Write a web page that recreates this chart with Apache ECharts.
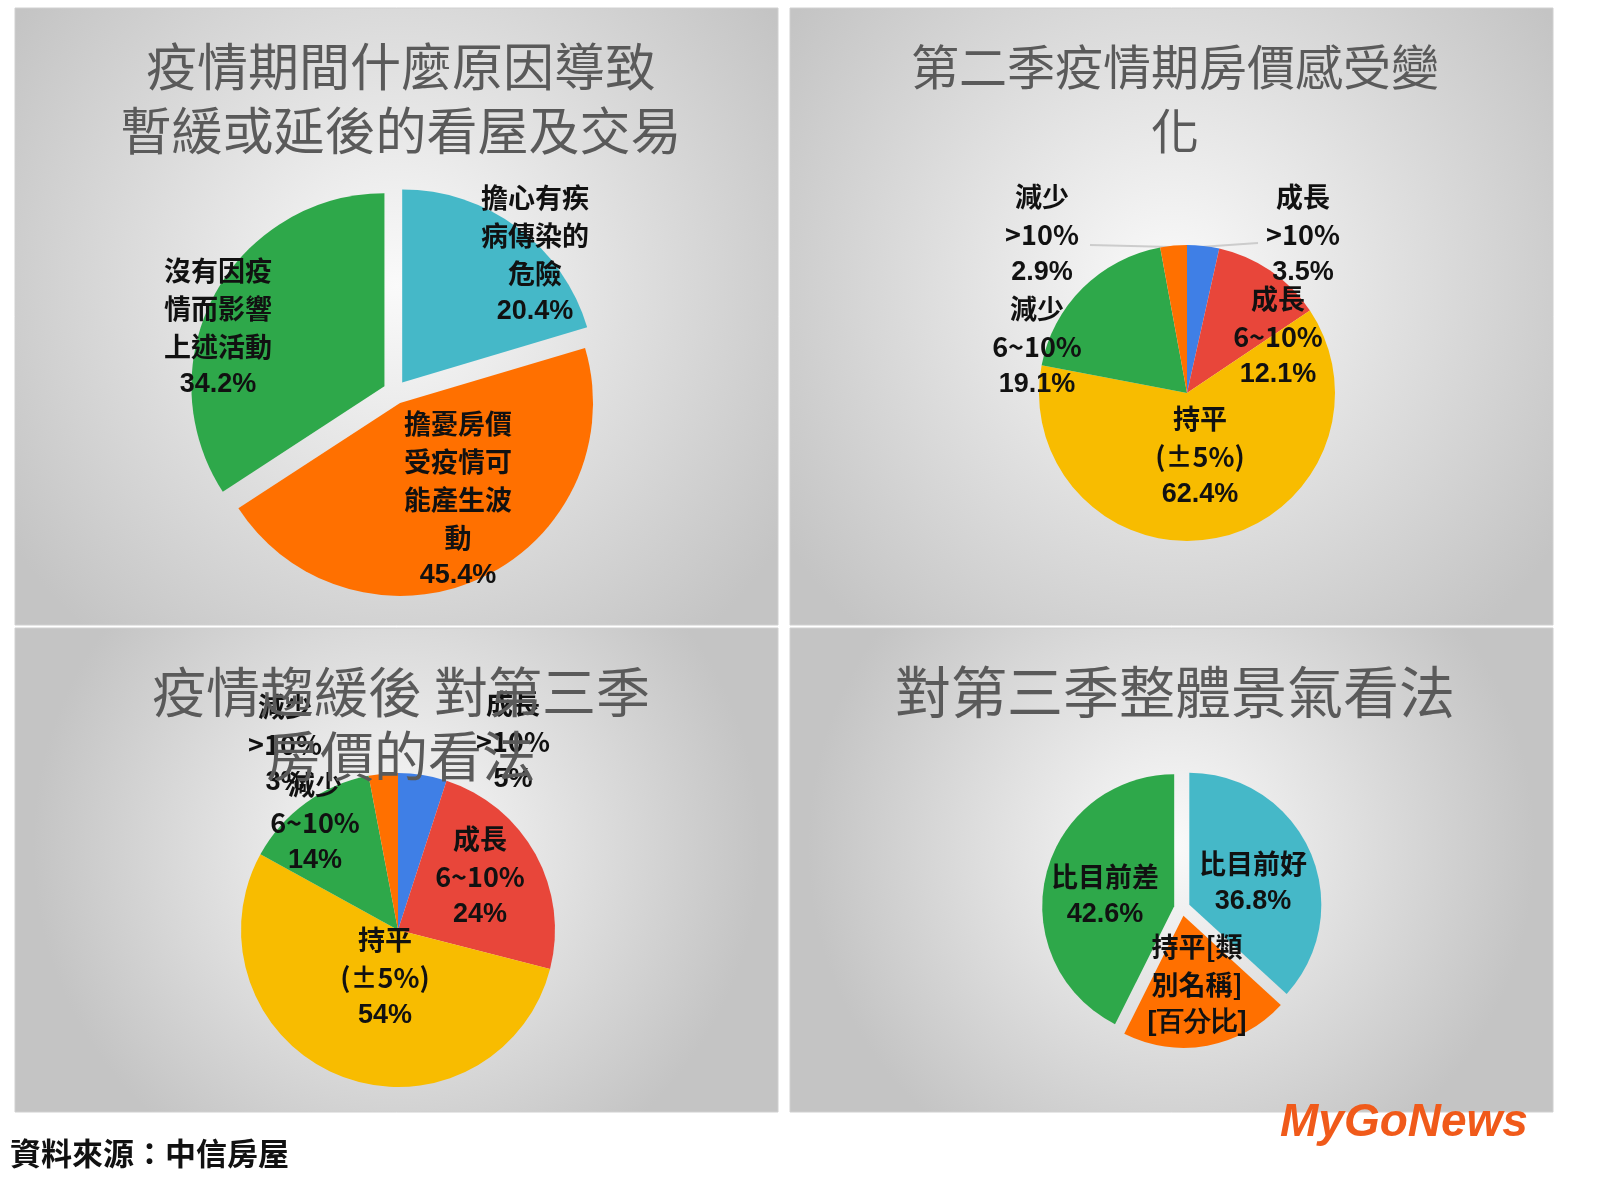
<!DOCTYPE html>
<html><head><meta charset="utf-8">
<script src="https://cdn.jsdelivr.net/npm/echarts@6/dist/echarts.min.js"></script>
<style>html,body{margin:0;padding:0;background:#fff}#c{width:1600px;height:1200px}</style>
</head><body><div id="c"></div>
<script>
const FONT='"Noto Sans CJK TC","Noto Sans",sans-serif';
// Chart 1
const c1Names=['擔心有疾\n病傳染的\n危險','擔憂房價\n受疫情可\n能產生波\n動','沒有因疫\n情而影響\n上述活動'];
const c1Values=[20.4,45.4,34.2];
const c1Colors=['#45b8c8','#ff7000','#2ea84a'];
// Chart 2
const c2Names=['成長\n>10%','成長\n6~10%','持平\n(±5%)','減少\n6~10%','減少\n>10%'];
const c2Values=[3.5,12.1,62.4,19.1,2.9];
// Chart 3
const c3Values=[5,24,54,14,3];
const c3Pct=['5%','24%','54%','14%','3%'];
const fiveColors=['#3f7fe6','#e8463a','#f8bc00','#2ea84a','#ff7000'];
// Chart 4
const c4Names=['比目前好','持平[類\n別名稱]','比目前差'];
const c4Values=[36.8,20.6,42.6];
const c4Pct=['36.8%','[百分比]','42.6%'];
const c4Colors=['#45b8c8','#ff7000','#2ea84a'];
// label anchor positions (text layout, not marks)
const L1=[[535,255],[458,500],[218,328]];
const L2=[[1303,235],[1278,337],[1200,457],[1037,347],[1042,235]];
const L3=[[513,742],[480,877],[385,978],[315,823],[285,745]];
const L4=[[1253,883],[1197,985],[1105,896]];

function mk(names,vals,colors,pcts,sel,showLab){
  return vals.map((v,i)=>({name:names[i],value:v,selected:!!sel,
    itemStyle:{color:colors[i]},
    label:{show:!!showLab,position:'inside',color:'#111',fontSize:27,fontFamily:FONT,fontWeight:'bold',lineHeight:38,
      formatter:names[i]+'\n{b|'+(pcts?pcts[i]:v.toFixed(1)+'%')+'}',
      rich:{b:{fontWeight:'bold',fontSize:27,fontFamily:'Liberation Sans',color:'#111',lineHeight:38}}},
    labelLine:{show:false}}));
}
function lay(P){return p=>({x:P[p.dataIndex][0],y:P[p.dataIndex][1],align:'center',verticalAlign:'middle',hideOverlap:false});}
const bgFill={type:'radial',x:0.5,y:0.45,r:0.75,colorStops:[{offset:0,color:'#fafafa'},{offset:1,color:'#c4c4c4'}]};
const panels=[[15,8,763,617],[790,8,763,617],[15,628,763,484],[790,628,763,484]];
const chart=echarts.init(document.getElementById('c'));
const ts=s=>({fontSize:s,color:'#5a5a5a',fontFamily:FONT,fontWeight:'normal',lineHeight:64});
chart.setOption({
  animation:false,
  graphic:panels.map(p=>({type:'rect',shape:{x:p[0],y:p[1],width:p[2],height:p[3]},style:{fill:bgFill,stroke:'#d0d0d0'},z:-10})).concat([
    {type:'text',left:10,top:1138,style:{text:'資料來源：中信房屋',font:'bold 31px '+FONT,fill:'#111'}},
    {type:'text',left:1280,top:1100,style:{text:'MyGoNews',font:'bold italic 46px "Liberation Sans"',fill:'#f05a1a'}},
    {type:'line',shape:{x1:1090,y1:245,x2:1172,y2:247},style:{stroke:'#ccc',lineWidth:2}},
    {type:'line',shape:{x1:1200,y1:247,x2:1258,y2:243},style:{stroke:'#ccc',lineWidth:2}}
  ]),
  title:[
    {text:'疫情期間什麼原因導致\n暫緩或延後的看屋及交易',left:396,top:30,textAlign:'center',textStyle:ts(51)},
    {text:'第二季疫情期房價感受變\n化',left:1170,top:30,textAlign:'center',textStyle:ts(48)},
    {text:'疫情趨緩後 對第三季\n房價的看法',left:396,top:655,textAlign:'center',textStyle:ts(54)},
    {text:'對第三季整體景氣看法',left:1170,top:655,textAlign:'center',textStyle:ts(56)}
  ],
  series:[
    {type:'pie',center:[395,392],radius:193,startAngle:90,selectedMode:'multiple',selectedOffset:12,
     data:mk(c1Names,c1Values,c1Colors,null,true,false)},
    {type:'pie',center:[395,392],radius:193,startAngle:90,silent:true,avoidLabelOverlap:false,z:5,
     data:mk(c1Names,c1Values,c1Colors,null,false,true).map(d=>(d.itemStyle={color:'rgba(0,0,0,0)'},d)),labelLayout:lay(L1)},
    {type:'pie',center:[1187,393],radius:148,startAngle:90,avoidLabelOverlap:false,
     data:mk(c2Names,c2Values,fiveColors,null,false,true),labelLayout:lay(L2)},
    {type:'pie',center:[398,930],radius:157,startAngle:90,avoidLabelOverlap:false,
     data:mk(c2Names,c3Values,fiveColors,c3Pct,false,true),labelLayout:lay(L3)},
    {type:'pie',center:[1182,908],radius:132,startAngle:90,selectedMode:'multiple',selectedOffset:8,
     data:mk(c4Names,c4Values,c4Colors,c4Pct,true,false)},
    {type:'pie',center:[1182,908],radius:132,startAngle:90,silent:true,avoidLabelOverlap:false,z:5,
     data:mk(c4Names,c4Values,c4Colors,c4Pct,false,true).map(d=>(d.itemStyle={color:'rgba(0,0,0,0)'},d)),labelLayout:lay(L4)}
  ]
});
</script></body></html>
